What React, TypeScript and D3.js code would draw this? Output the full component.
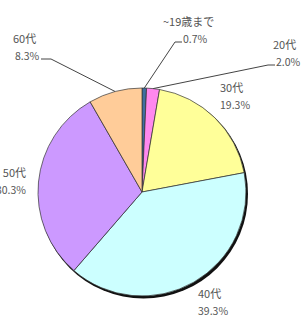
import React from "react";
import * as d3 from "d3";

// age groups and their share (%)
const categories = ["~19歳まで", "20代", "30代", "40代", "50代", "60代"];
const shares = [0.7, 2.0, 19.3, 39.3, 30.3, 8.3];
const shareLabels = ["0.7%", "2.0%", "19.3%", "39.3%", "30.3%", "8.3%"];
const colors = ["#3f6f9f", "#ff88ee", "#ffff99", "#ccffff", "#cc99ff", "#ffcc99"];

const width = 301;
const height = 316;
const cx = 142;
const cy = 192;
const radius = 104;

// label placement relative to pie centre: [x, y of first baseline, anchor, leader?, x shift of % line]
const labelLayout: [number, number, string, boolean, number][] = [
  [21, -166, "start", true, 20],
  [131, -143, "start", true, 3],
  [78, -100, "start", false, 0],
  [56, 106, "start", false, 0],
  [-116, -15, "end", false, 0],
  [-129, -149, "start", true, 2],
];

const pie = d3.pie<number>().sort(null).value((d) => d);
const arc = d3.arc<d3.PieArcDatum<number>>().innerRadius(0).outerRadius(radius);

export default function App() {
  const arcs = pie(shares);
  return (
    <svg
      width={width}
      height={height}
      style={{ position: "absolute", left: 0, top: 0, background: "#fff" }}
      fontFamily="'Noto Sans CJK JP', sans-serif"
    >
      <g transform={`translate(${cx},${cy})`}>
        <circle cx={1.5} cy={2} r={radius + 0.5} fill="#111" />
        {arcs.map((a, i) => (
          <path key={i} d={arc(a) || ""} fill={colors[i]} stroke="#333" strokeWidth={0.7} />
        ))}
        {arcs.map((a, i) => {
          const [lx, ly, anchor, leader, shift] = labelLayout[i];
          const mid = (a.startAngle + a.endAngle) / 2;
          const px = Math.sin(mid) * radius;
          const py = -Math.cos(mid) * radius;
          const lineY = ly + 16;
          let pts = "";
          if (leader) {
            if (px > 0) {
              const x0 = lx + shift - 1;
              pts = `${x0},${lineY} ${x0 - 7},${lineY} ${px},${py}`;
            } else {
              const x0 = lx + 28;
              pts = `${x0},${lineY} ${x0 + 10},${lineY} ${px},${py}`;
            }
          }
          return (
            <g key={"l" + i}>
              {leader && <polyline points={pts} fill="none" stroke="#444" strokeWidth={1} />}
              <text x={lx} y={ly} fontSize={11} fill="#555" textAnchor={anchor}>
                {categories[i]}
              </text>
              <text x={lx + shift} y={ly + 17} fontSize={10.5} fill="#555" textAnchor={anchor}>
                {shareLabels[i]}
              </text>
            </g>
          );
        })}
      </g>
    </svg>
  );
}
